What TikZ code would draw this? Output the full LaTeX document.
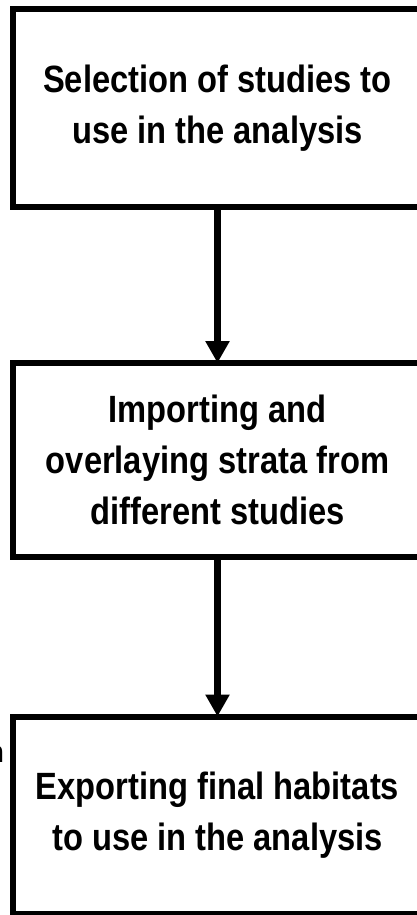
\documentclass[tikz,border=0pt]{standalone}
\usepackage{fontspec}
\setmainfont{Liberation Sans}[FakeStretch=0.86]
\usetikzlibrary{arrows.meta}

\tikzset{etape/.style = {draw, line width=6pt, outer sep=0pt, inner sep=0pt,
                         minimum width=409pt, minimum height=#1, align=center,
                         font=\bfseries\fontsize{38}{51}\selectfont},
         etape/.default=196pt,
         fleche/.style = {line width=7pt, -{Triangle[width=23pt, length=22pt]}}
        }

\begin{document}
\begin{tikzpicture}[x=1pt, y=-1pt]
  \useasboundingbox (0, 0) rectangle (417, 915);
  \node[etape=198pt] (selection) at (217.5, 108) {Selection of studies to\\use in the analysis};
  \node[etape=194pt] (import) at (217.5, 460) {Importing and\\overlaying strata from\\different studies};
  \node[etape=197pt] (export) at (217.5, 815) {Exporting final habitats\\to use in the analysis};
  \node[anchor=base east, inner sep=0pt, font=\bfseries\fontsize{30}{36}\selectfont] (reste) at (4, 762) {n};
  \draw[fleche] (selection) -- (import);
  \draw[fleche] (import) -- (export);
\end{tikzpicture}
\end{document}
